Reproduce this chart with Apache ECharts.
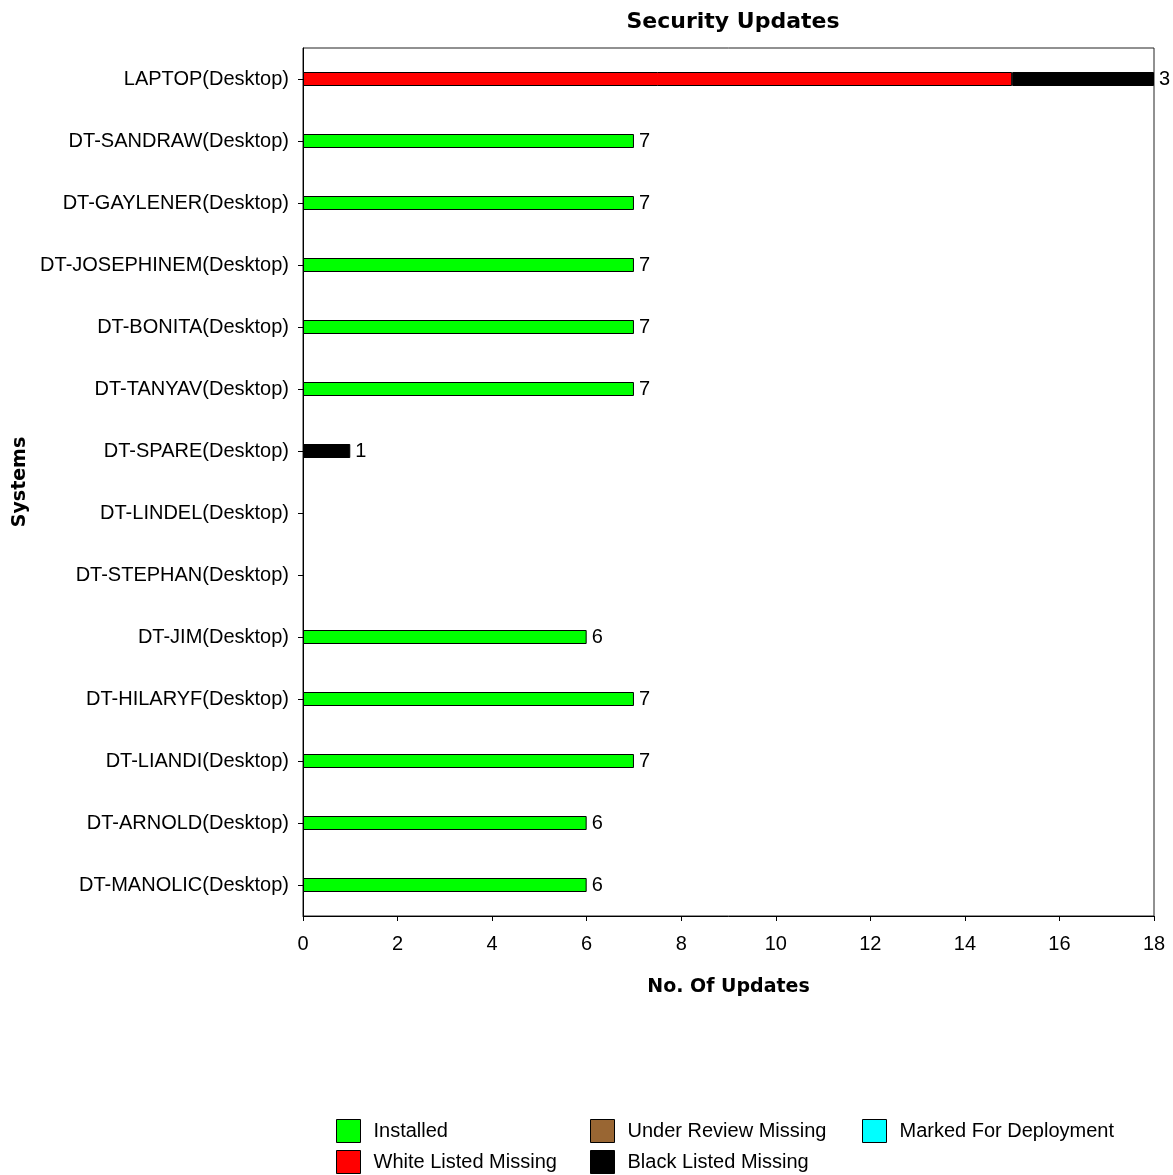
<!DOCTYPE html>
<html><head><meta charset="utf-8">
<script src="https://cdn.jsdelivr.net/npm/echarts@6/dist/echarts.min.js"></script>
<style>html,body{margin:0;padding:0;background:#fff}#c{width:1173px;height:1175px}</style>
</head><body><div id="c"></div>
<script>
const categories = ["LAPTOP(Desktop)","DT-SANDRAW(Desktop)","DT-GAYLENER(Desktop)","DT-JOSEPHINEM(Desktop)","DT-BONITA(Desktop)","DT-TANYAV(Desktop)","DT-SPARE(Desktop)","DT-LINDEL(Desktop)","DT-STEPHAN(Desktop)","DT-JIM(Desktop)","DT-HILARYF(Desktop)","DT-LIANDI(Desktop)","DT-ARNOLD(Desktop)","DT-MANOLIC(Desktop)"];
const installed        = [0,7,7,7,7,7,0,0,0,6,7,7,6,6];
const whiteListed      = [15,0,0,0,0,0,0,0,0,0,0,0,0,0];
const underReview      = [0,0,0,0,0,0,0,0,0,0,0,0,0,0];
const blackListed      = [3,0,0,0,0,0,1,0,0,0,0,0,0,0];
const markedDeployment = [0,0,0,0,0,0,0,0,0,0,0,0,0,0];
const xTicks = {min:0, max:18, interval:2};

const seriesDefs = [
  {name:"Installed", data:installed, color:"#00FF00"},
  {name:"White Listed Missing", data:whiteListed, color:"#FF0000"},
  {name:"Under Review Missing", data:underReview, color:"#996633"},
  {name:"Black Listed Missing", data:blackListed, color:"#000000"},
  {name:"Marked For Deployment", data:markedDeployment, color:"#00FFFF"}
];
const FONT = "'Liberation Sans', Arial, sans-serif";
const BOLD = "'DejaVu Sans', Verdana, sans-serif";
const FS = 20;

function isLast(si, ci){
  if(!seriesDefs[si].data[ci]) return false;
  for(let k=si+1;k<seriesDefs.length;k++){ if(seriesDefs[k].data[ci]) return false; }
  return true;
}

const series = seriesDefs.map((s,si)=>({
  name:s.name, type:'bar', stack:'total', barWidth:14,
  data:s.data.map(v=> v===0 ? '-' : v),
  itemStyle:{color:s.color, borderColor:'#000', borderWidth:1},
  label:{show:true, position:'right', distance:5, color:'#000', fontFamily:FONT, fontSize:FS,
    padding:[3,0,0,0],
    formatter:p=> isLast(si,p.dataIndex) ? String(p.value) : ''},
  emphasis:{disabled:true}
}));

const legendPos = [
  {name:"Installed", left:336, top:1119},
  {name:"Under Review Missing", left:590, top:1119},
  {name:"Marked For Deployment", left:862, top:1119},
  {name:"White Listed Missing", left:336, top:1150},
  {name:"Black Listed Missing", left:590, top:1150}
];
const legends = legendPos.map(l=>({
  data:[{name:l.name, icon:'rect'}], left:l.left, top:l.top, itemWidth:24, itemHeight:23, padding:0,
  selectedMode:false,
  itemStyle:{borderColor:'#000', borderWidth:1},
  textStyle:{fontFamily:FONT, fontSize:FS, color:'#000', padding:[3,0,0,8]}
}));

const chart = echarts.init(document.getElementById('c'), null, {renderer:'canvas'});
chart.setOption({
  animation:false,
  backgroundColor:'#fff',
  title:{text:'Security Updates', left:728, textAlign:'center', top:6,
    textStyle:{fontFamily:BOLD, fontWeight:'bold', fontSize:22, color:'#000'}},
  legend:legends,
  grid:{left:303, right:19, top:48, bottom:259, show:true, borderColor:'#222', borderWidth:1, containLabel:false},
  xAxis:{type:'value', min:xTicks.min, max:xTicks.max, interval:xTicks.interval,
    name:'No. Of Updates', nameLocation:'middle', nameGap:62,
    nameTextStyle:{fontFamily:BOLD, fontWeight:'bold', fontSize:19, color:'#000'},
    axisLine:{show:true, lineStyle:{color:'#000', width:1}},
    axisTick:{show:true, length:5, lineStyle:{color:'#000'}},
    axisLabel:{color:'#000', fontFamily:FONT, fontSize:FS, margin:18},
    splitLine:{show:false}},
  yAxis:{type:'category', data:categories, inverse:true,
    name:'Systems', nameLocation:'middle', nameGap:272, nameRotate:90,
    nameTextStyle:{fontFamily:BOLD, fontWeight:'bold', fontSize:19, color:'#000'},
    axisLine:{show:true, lineStyle:{color:'#000', width:1}},
    axisTick:{show:true, length:5, alignWithLabel:true, lineStyle:{color:'#000'}},
    axisLabel:{color:'#000', fontFamily:FONT, fontSize:FS, margin:14, padding:[3,0,0,0]},
    splitLine:{show:false}},
  series:series
});
</script></body></html>
